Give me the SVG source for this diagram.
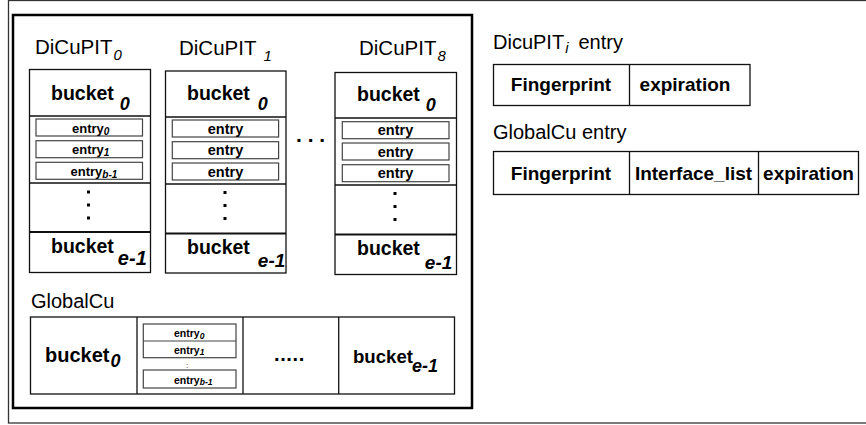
<svg xmlns="http://www.w3.org/2000/svg" width="866" height="425" viewBox="0 0 866 425">
<style>
.frame{fill:none;stroke:#333;stroke-width:1.3}
.inner{fill:none;stroke:#000;stroke-width:2.5}
.box{fill:#fff;stroke:#111;stroke-width:1.3}
.ebox{fill:#fff;stroke:#444;stroke-width:1.2}
.div{stroke:#111;stroke-width:1.3}
.thick{stroke:#111;stroke-width:2.2}
.dot{fill:#000}
text{font-family:"Liberation Sans",Arial,sans-serif;fill:#000}
.t{font-size:20.5px}
.b{font-weight:bold}
.i{font-style:italic}
.lab{font-size:20px}
.cell{font-size:19px;font-weight:bold;text-anchor:middle}
</style>
<rect class="frame" x="8.5" y="0.5" width="870" height="422.5"/>
<rect class="inner" x="13" y="15" width="459" height="393"/>

<g id="dicupit0">
<text class="t" x="35" y="54">DiCuPIT<tspan class="i" font-size="15" dx="1" dy="6">0</tspan></text>
<rect class="box" x="29.5" y="69.5" width="121" height="203"/>
<line class="div" x1="29.5" y1="116" x2="150.5" y2="116"/>
<line class="div" x1="29.5" y1="183" x2="150.5" y2="183"/>
<line class="thick" x1="29.5" y1="232" x2="150.5" y2="232"/>
<text class="b" font-size="19.5" x="51" y="99.5">bucket<tspan class="i" font-size="18" dx="6" dy="10">0</tspan></text>
<rect class="ebox" x="36" y="119" width="106.5" height="17"/>
<rect class="ebox" x="36" y="140.7" width="106.5" height="17"/>
<rect class="ebox" x="36" y="162.3" width="106.5" height="17"/>
<text class="b" font-size="13" x="72" y="132.5">entry<tspan class="i" font-size="10" dy="2">0</tspan></text>
<text class="b" font-size="13" x="72" y="154">entry<tspan class="i" font-size="10" dy="2">1</tspan></text>
<text class="b" font-size="13" x="70.5" y="175.5">entry<tspan class="i" font-size="10" dy="2">b-1</tspan></text>
<rect class="dot" x="87" y="190.5" width="3" height="3"/>
<rect class="dot" x="87" y="203.5" width="3" height="3"/>
<rect class="dot" x="87" y="216.5" width="3" height="3"/>
<text class="b" font-size="19.5" x="51" y="253">bucket<tspan class="i" font-size="20" dx="4" dy="12">e-1</tspan></text>
</g>

<g id="dicupit1">
<text class="t" x="179" y="55">DiCuPIT<tspan class="i" font-size="15" dx="7" dy="6">1</tspan></text>
<rect class="box" x="165.5" y="71" width="120.5" height="202"/>
<line class="div" x1="165.5" y1="117" x2="286" y2="117"/>
<line class="div" x1="165.5" y1="184" x2="286" y2="184"/>
<line class="thick" x1="165.5" y1="233.5" x2="286" y2="233.5"/>
<text class="b" font-size="19.5" x="187" y="100">bucket<tspan class="i" font-size="18" dx="8" dy="10">0</tspan></text>
<rect class="ebox" x="172.3" y="120" width="106.3" height="17"/>
<rect class="ebox" x="172.3" y="141.7" width="106.3" height="17"/>
<rect class="ebox" x="172.3" y="163" width="106.3" height="17"/>
<text class="b" font-size="14.5" x="225.5" y="133.5" text-anchor="middle">entry</text>
<text class="b" font-size="14.5" x="225.5" y="155" text-anchor="middle">entry</text>
<text class="b" font-size="14.5" x="225.5" y="176.5" text-anchor="middle">entry</text>
<rect class="dot" x="223.5" y="191" width="3" height="3"/>
<rect class="dot" x="223.5" y="204" width="3" height="3"/>
<rect class="dot" x="223.5" y="217" width="3" height="3"/>
<text class="b" font-size="19.5" x="187" y="254">bucket<tspan class="i" font-size="19" dx="8" dy="13">e-1</tspan></text>
</g>

<g id="ellipsis">
<text class="b" font-size="21" x="296" y="141.5">. . .</text>
</g>

<g id="dicupit8">
<text class="t" x="359" y="55">DiCuPIT<tspan class="i" font-size="15" dx="1" dy="6">8</tspan></text>
<rect class="box" x="335" y="72.5" width="121.5" height="202"/>
<line class="div" x1="335" y1="118" x2="456.5" y2="118"/>
<line class="div" x1="335" y1="185" x2="456.5" y2="185"/>
<line class="thick" x1="335" y1="234.5" x2="456.5" y2="234.5"/>
<text class="b" font-size="19.5" x="357" y="101">bucket<tspan class="i" font-size="18" dx="6" dy="10">0</tspan></text>
<rect class="ebox" x="342.3" y="121.7" width="106.7" height="17"/>
<rect class="ebox" x="342.3" y="143" width="106.7" height="17"/>
<rect class="ebox" x="342.3" y="164.7" width="106.7" height="17"/>
<text class="b" font-size="14.5" x="395.5" y="135" text-anchor="middle">entry</text>
<text class="b" font-size="14.5" x="395.5" y="156.5" text-anchor="middle">entry</text>
<text class="b" font-size="14.5" x="395.5" y="178" text-anchor="middle">entry</text>
<rect class="dot" x="393.5" y="192" width="3" height="3"/>
<rect class="dot" x="393.5" y="205" width="3" height="3"/>
<rect class="dot" x="393.5" y="218" width="3" height="3"/>
<text class="b" font-size="19.5" x="357" y="255">bucket<tspan class="i" font-size="19" dx="5" dy="14">e-1</tspan></text>
</g>

<g id="globalcu">
<text class="lab" x="31" y="308">GlobalCu</text>
<rect class="box" x="30.5" y="317" width="424" height="77"/>
<line class="div" x1="137" y1="317" x2="137" y2="394"/>
<line class="div" x1="243" y1="317" x2="243" y2="394"/>
<line class="div" x1="338.7" y1="317" x2="338.7" y2="394"/>
<text class="b" font-size="20" x="45" y="362">bucket<tspan class="i" font-size="18" dx="1" dy="5">0</tspan></text>
<rect class="ebox" x="143.3" y="324" width="92.7" height="33.7"/>
<line class="ebox" x1="143.3" y1="341" x2="236" y2="341"/>
<rect class="ebox" x="143.3" y="370" width="92.7" height="18"/>
<text class="b" font-size="10.5" x="174" y="337">entry<tspan class="i" font-size="8.5" dy="2">0</tspan></text>
<text class="b" font-size="10.5" x="174" y="353.5">entry<tspan class="i" font-size="8.5" dy="1">1</tspan></text>
<text font-size="8" x="186" y="368" fill="#555">:</text>
<text class="b" font-size="10.5" x="174" y="383.5">entry<tspan class="i" font-size="8.5" dy="1">b-1</tspan></text>
<text class="b" font-size="20" x="274" y="361" letter-spacing="0.6">.....</text>
<text class="b" font-size="18.6" x="353" y="363">bucket<tspan class="i" font-size="18" dx="-1" dy="9">e-1</tspan></text>
</g>

<g id="dicupit-entry">
<text class="lab" x="493" y="49">DicuPIT<tspan class="i" font-size="15" dx="1" dy="4">i</tspan><tspan dx="10" dy="-4">entry</tspan></text>
<rect class="box" x="493.5" y="64.5" width="256.5" height="41"/>
<line class="div" x1="629.5" y1="64.5" x2="629.5" y2="105.5"/>
<text class="cell" x="561" y="91">Fingerprint</text>
<text class="cell" x="685" y="91">expiration</text>
</g>

<g id="globalcu-entry">
<text class="lab" x="493" y="139" font-size="19.6">GlobalCu entry</text>
<rect class="box" x="493.5" y="151.5" width="365" height="43"/>
<line class="div" x1="629.5" y1="151.5" x2="629.5" y2="194.5"/>
<line class="div" x1="758.5" y1="151.5" x2="758.5" y2="194.5"/>
<text class="cell" x="561" y="180">Fingerprint</text>
<text class="cell" x="693.5" y="180">Interface_list</text>
<text class="cell" x="808.5" y="180">expiration</text>
</g>

<g id="connectors"></g>
</svg>
